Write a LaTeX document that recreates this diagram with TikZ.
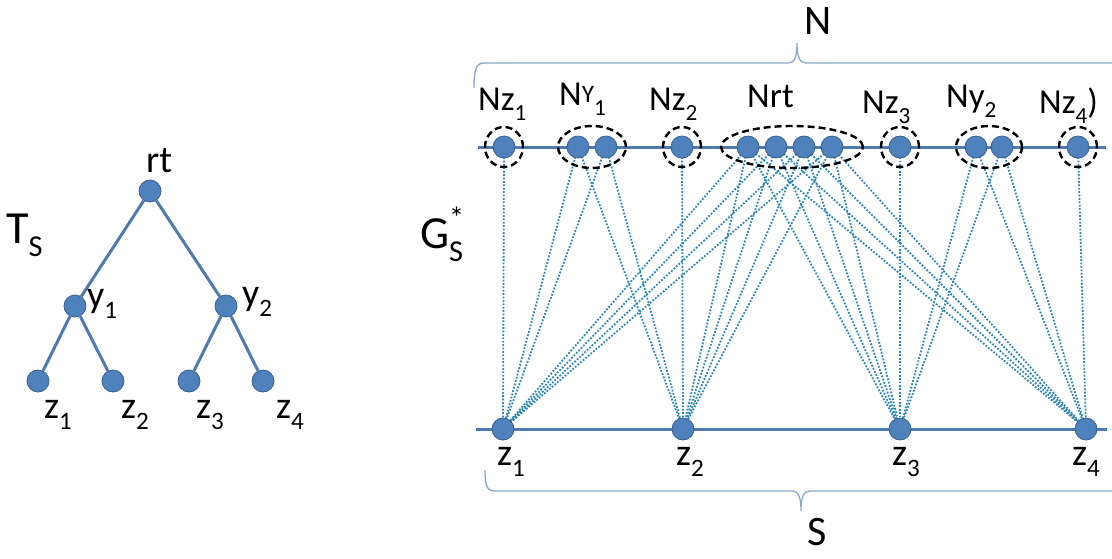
\documentclass[tikz,border=0pt]{standalone}
\usepackage{fontspec}
\setmainfont{Carlito}
\usetikzlibrary{positioning,shapes.geometric,backgrounds}

\definecolor{nodeblue}{RGB}{79,129,189}
\definecolor{rimblue}{RGB}{58,96,145}
\definecolor{edgeblue}{RGB}{78,122,176}
\definecolor{dotblue}{RGB}{46,134,178}
\definecolor{braceblue}{RGB}{140,168,200}

\newcommand{\lo}[1]{\raisebox{-0.3em}{\scalebox{0.66}{#1}}}
\newcommand{\hi}[1]{\raisebox{0.42em}{\scalebox{0.66}{#1}}}

\begin{document}
\begin{tikzpicture}[
  x=1pt, y=-1pt,
  font=\fontsize{38}{44}\selectfont,
  vtx/.style={circle, fill=nodeblue, draw=rimblue, line width=0.8pt,
              minimum size=22pt, inner sep=0pt},
  treeedge/.style={edgeblue, line width=3pt},
  rowline/.style={edgeblue, line width=3pt},
  link/.style={dotblue, line width=1.8pt, dash pattern=on 1.8pt off 1.6pt},
  grp/.style={draw=black, line width=2.4pt, dash pattern=on 7pt off 4pt,
              ellipse, inner sep=0pt},
  lbl/.style={anchor=base west, inner sep=0pt},
  toplbl/.style={lbl, font=\fontsize{35}{40}\selectfont},
  big/.style={font=\fontsize{46}{52}\selectfont},
  setlbl/.style={lbl, font=\fontsize{42}{46}\selectfont},
  brace/.style={braceblue, line width=1.3pt},
]
\useasboundingbox (0,0) rectangle (1112,558);

% ---- Tree T_S -------------------------------------------------------------
\node[vtx] (rt) at (150,191) {};
\node[vtx] (y1) at (75,306) {};
\node[vtx] (y2) at (226,306) {};
\node[vtx] (z1) at (38,381) {};
\node[vtx] (z2) at (113,381) {};
\node[vtx] (z3) at (189,381) {};
\node[vtx] (z4) at (263,381) {};

\draw[treeedge] (rt) -- (y1);
\draw[treeedge] (rt) -- (y2);
\draw[treeedge] (y1) -- (z1);
\draw[treeedge] (y1) -- (z2);
\draw[treeedge] (y2) -- (z3);
\draw[treeedge] (y2) -- (z4);

\node[lbl] (lrt) at (146,172) {rt};
\node[lbl, big] (lts) at (6,243) {T\lo{S}};
\node[lbl] (ly1) at (87,307) {y\lo{1}};
\node[lbl] (ly2) at (242,305) {y\lo{2}};
\node[lbl] (lz1) at (44,418) {z\lo{1}};
\node[lbl] (lz2) at (121,418) {z\lo{2}};
\node[lbl] (lz3) at (196,418) {z\lo{3}};
\node[lbl] (lz4) at (276,418) {z\lo{4}};

% ---- Graph G*_S -----------------------------------------------------------
\node[lbl, big] (lg) at (420,248) {G\rlap{\hi{*}}\lo{S}};

\foreach \nm/\xx in {nz1/504, ny1a/578, ny1b/606, nz2/682, nrta/748, nrtb/776,
                     nrtc/804, nrtd/832, nz3/900, ny2a/976, ny2b/1002, nz4/1078}
  \node[vtx] (\nm) at (\xx,147) {};
\foreach \nm/\xx in {sz1/503, sz2/683, sz3/900, sz4/1086}
  \node[vtx] (\nm) at (\xx,429) {};

\coordinate (topl) at (478,147);
\coordinate (topr) at (1106,147);
\coordinate (botl) at (476,429);
\coordinate (botr) at (1107,429);

\begin{scope}[on background layer]
  \draw[rowline] (topl) -- (topr);
  \draw[rowline] (botl) -- (botr);
  \foreach \a/\b in {nz1/sz1, ny1a/sz1, ny1a/sz2, ny1b/sz1, ny1b/sz2, nz2/sz2,
                     nrta/sz1, nrta/sz2, nrta/sz3, nrta/sz4,
                     nrtb/sz1, nrtb/sz2, nrtb/sz3, nrtb/sz4,
                     nrtc/sz1, nrtc/sz2, nrtc/sz3, nrtc/sz4,
                     nrtd/sz1, nrtd/sz2, nrtd/sz3, nrtd/sz4,
                     nz3/sz3, ny2a/sz3, ny2a/sz4, ny2b/sz3, ny2b/sz4, nz4/sz4}
    \draw[link] (\a.center) -- (\b.center);
\end{scope}

% groups N_x
\node[grp, minimum width=38pt, minimum height=40pt] (gz1) at (nz1) {};
\node[grp, minimum width=68pt, minimum height=42pt] (gy1) at (592,147) {};
\node[grp, minimum width=38pt, minimum height=40pt] (gz2) at (nz2) {};
\node[grp, minimum width=142pt, minimum height=42pt] (grt) at (792,147) {};
\node[grp, minimum width=38pt, minimum height=40pt] (gz3) at (nz3) {};
\node[grp, minimum width=66pt, minimum height=42pt] (gy2) at (989,147) {};
\node[grp, minimum width=38pt, minimum height=40pt] (gz4) at (nz4) {};

\node[toplbl] (lnz1) at (478,110) {Nz\lo{1}};
\node[toplbl] (lny1) at (559,105) {N\raisebox{0.06em}{\scalebox{0.72}{Y}}\lo{1}};
\node[toplbl] (lnz2) at (649,110) {Nz\lo{2}};
\node[toplbl] (lnrt) at (747,107) {Nrt};
\node[toplbl] (lnz3) at (862,113) {Nz\lo{3}};
\node[toplbl] (lny2) at (946,107) {Ny\lo{2}};
\node[toplbl] (lnz4) at (1039,113) {Nz\lo{4})};

\node[lbl] (lsz1) at (497,465) {z\lo{1}};
\node[lbl] (lsz2) at (676,465) {z\lo{2}};
\node[lbl] (lsz3) at (892,465) {z\lo{3}};
\node[lbl] (lsz4) at (1072,465) {z\lo{4}};

% braces N and S
\draw[brace] (474,88) .. controls (474,70) and (476,63) .. (484,63) -- (788,63)
  .. controls (794,63) and (797,58) .. (797,43)
  .. controls (797,58) and (800,63) .. (806,63) -- (1120,63);
\draw[brace] (485,470) .. controls (485,486) and (487,491) .. (495,491) -- (792,491)
  .. controls (798,491) and (801,496) .. (801,511)
  .. controls (801,496) and (804,491) .. (810,491) -- (1120,491);
\node[setlbl] (ln) at (804,34) {N};
\node[setlbl] (ls) at (807,545) {S};

\end{tikzpicture}
\end{document}
